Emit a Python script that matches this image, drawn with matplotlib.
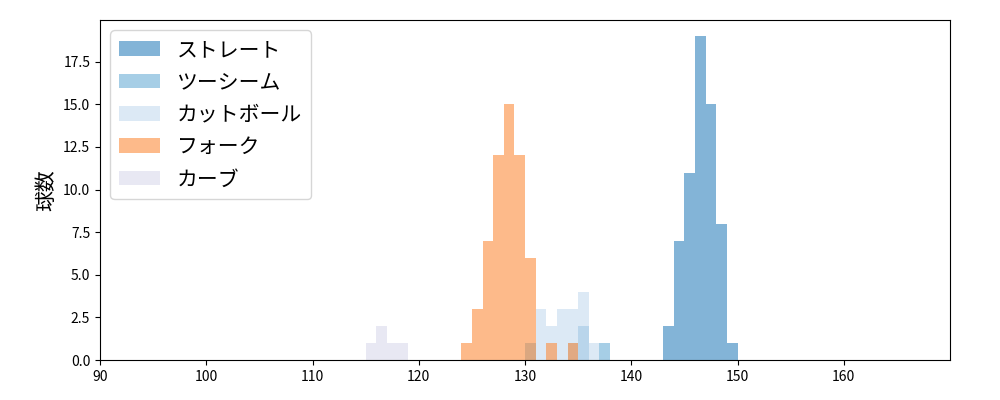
import matplotlib
matplotlib.use("Agg")
import matplotlib.pyplot as plt

plt.rcParams['font.family'] = ['Noto Sans CJK JP', 'DejaVu Sans']

labels = ["ストレート", "ツーシーム", "カットボール", "フォーク", "カーブ"]
colors = ["#3182bd", "#6baed6", "#c6dbef", "#fd8d3c", "#dadaeb"]
bins = [
    [143, 144, 145, 146, 147, 148, 149],
    [130, 134, 135, 137],
    [131, 132, 133, 134, 135, 136],
    [124, 125, 126, 127, 128, 129, 130, 132, 134],
    [115, 116, 117, 118],
]
counts = [
    [2, 7, 11, 19, 15, 8, 1],
    [1, 1, 2, 1],
    [3, 2, 3, 3, 4, 1],
    [1, 3, 7, 12, 15, 12, 6, 1, 1],
    [1, 2, 1, 1],
]

fig, ax = plt.subplots(figsize=(10, 4), dpi=100)
for lab, c, b, n in zip(labels, colors, bins, counts):
    ax.bar(b, n, width=1, align='edge', color=c, alpha=0.6, label=lab, linewidth=0)
ax.set_xlim(90, 170)
ax.set_ylim(0, 19.95)
ax.set_xticks(range(90, 170, 10))
ax.set_yticks([0, 2.5, 5, 7.5, 10, 12.5, 15, 17.5])
ax.set_ylabel("球数", fontsize=15)
ax.legend(loc='upper left', fontsize=15)
fig.subplots_adjust(left=0.1, right=0.95, top=0.95, bottom=0.1)
fig.savefig("out.png")
